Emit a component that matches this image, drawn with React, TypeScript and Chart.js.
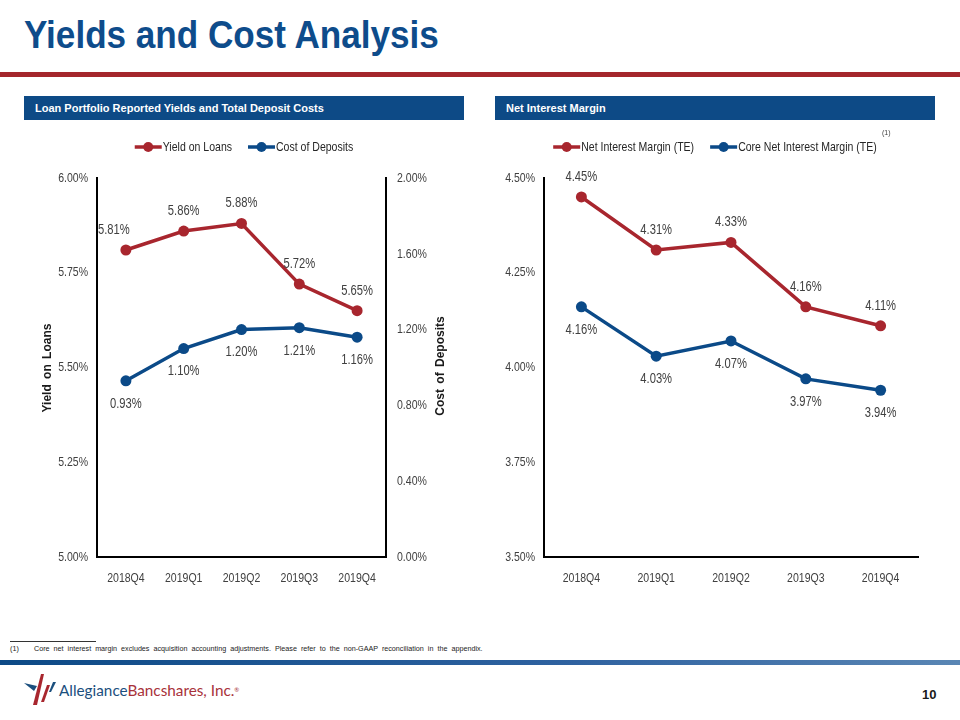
import React, { useEffect, useRef } from 'react';
import { Chart, registerables } from 'chart.js';

Chart.register(...registerables);

// ---------- data ----------
const quarters = ['2018Q4', '2019Q1', '2019Q2', '2019Q3', '2019Q4'];
const yieldOnLoans = [5.81, 5.86, 5.88, 5.72, 5.65];
const costOfDeposits = [0.93, 1.1, 1.2, 1.21, 1.16];
const netInterestMargin = [4.45, 4.31, 4.33, 4.16, 4.11];
const coreNetInterestMargin = [4.16, 4.03, 4.07, 3.97, 3.94];
const loanAxisTicks = [5.0, 5.25, 5.5, 5.75, 6.0];
const depositAxisTicks = [0.0, 0.4, 0.8, 1.2, 1.6, 2.0];
const nimAxisTicks = [3.5, 3.75, 4.0, 4.25, 4.5];

// ---------- style ----------
const RED = '#A8262E';
const BLUE = '#0B4A88';
const NAVY = '#0D4A86';
const TEXT = '#404040';
const SANS = "'Liberation Sans', Arial, sans-serif";
const CONDENSE = 0.78; // emulate a narrow face by horizontal scaling

const fmt = (v: number) => v.toFixed(2) + '%';

function narrowText(ctx: any, text: string, x: number, y: number, sx = CONDENSE) {
  ctx.save();
  ctx.translate(x, y);
  ctx.scale(sx, 1);
  ctx.fillText(text, 0, 0);
  ctx.restore();
}

const valueLabelPlugin = {
  id: 'valueLabels',
  afterDatasetsDraw(chart: any) {
    const ctx = chart.ctx;
    ctx.save();
    ctx.font = `14px ${SANS}`;
    ctx.fillStyle = TEXT;
    ctx.textAlign = 'center';
    ctx.textBaseline = 'middle';
    chart.data.datasets.forEach((ds: any, di: number) => {
      const meta = chart.getDatasetMeta(di);
      meta.data.forEach((pt: any, i: number) => {
        const dx = ds.labelShift ? ds.labelShift[i] || 0 : 0;
        const dy = ds.labelPos === 'above' ? -20 : 23;
        narrowText(ctx, fmt(ds.data[i]), pt.x + dx, pt.y + dy, 0.8);
      });
    });
    ctx.restore();
  },
};

const condensedTicksPlugin = {
  id: 'condensedTicks',
  afterDraw(chart: any, _args: any, opts: any) {
    const ctx = chart.ctx;
    ctx.save();
    ctx.font = `13.5px ${SANS}`;
    ctx.fillStyle = TEXT;
    ctx.textBaseline = 'middle';
    Object.keys(chart.scales).forEach((id) => {
      const scale = chart.scales[id];
      const pad = opts.pad[id] || 0;
      if (scale.axis === 'x') {
        ctx.textAlign = 'center';
        chart.data.labels.forEach((lab: string, i: number) => {
          narrowText(ctx, lab, scale.getPixelForTick(i), scale.top + pad);
        });
      } else {
        const left = scale.position === 'left';
        ctx.textAlign = left ? 'right' : 'left';
        scale.ticks.forEach((t: any) => {
          const y = scale.getPixelForValue(t.value);
          narrowText(ctx, fmt(t.value), left ? scale.right - pad : scale.left + pad, y);
        });
      }
    });
    ctx.restore();
  },
};

const lineLegendPlugin = {
  id: 'lineLegend',
  afterDraw(chart: any, _args: any, opts: any) {
    const ctx = chart.ctx;
    const y = opts.y;
    ctx.save();
    ctx.font = `13.5px ${SANS}`;
    const marker = 27;
    const gapText = 1;
    const gapItem = 16;
    const items = chart.data.datasets.map((ds: any) => ({
      text: ds.label,
      color: ds.borderColor,
      w: ctx.measureText(ds.label).width * CONDENSE,
    }));
    const total =
      items.reduce((s: number, it: any) => s + marker + gapText + it.w, 0) + gapItem * (items.length - 1);
    let x = (chart.width - total) / 2;
    items.forEach((it: any) => {
      ctx.strokeStyle = it.color;
      ctx.lineWidth = 3.5;
      ctx.beginPath();
      ctx.moveTo(x, y);
      ctx.lineTo(x + marker, y);
      ctx.stroke();
      ctx.fillStyle = it.color;
      ctx.beginPath();
      ctx.arc(x + marker / 2, y, 5, 0, Math.PI * 2);
      ctx.fill();
      ctx.fillStyle = '#262626';
      ctx.textAlign = 'left';
      ctx.textBaseline = 'middle';
      narrowText(ctx, it.text, x + marker + gapText, y + 0.5);
      x += marker + gapText + it.w + gapItem;
    });
    ctx.restore();
  },
};

const axisBorder = { display: true, color: '#000000', width: 2 };
const noGrid = { display: false, drawTicks: false };

function seriesStyle(color: string) {
  return {
    borderColor: color,
    backgroundColor: color,
    pointBackgroundColor: color,
    pointBorderColor: color,
    borderWidth: 3.5,
    pointRadius: 5.5,
    pointBorderWidth: 0,
    tension: 0,
  };
}

function yScale(position: string, ticks: number[], width: number) {
  return {
    position,
    min: ticks[0],
    max: ticks[ticks.length - 1],
    afterBuildTicks: (s: any) => {
      s.ticks = ticks.map((v) => ({ value: v }));
    },
    ticks: { display: false },
    grid: noGrid,
    border: axisBorder,
    afterFit: (s: any) => {
      s.width = width;
    },
  };
}

const xScale = {
  offset: true,
  grid: noGrid,
  border: axisBorder,
  ticks: { display: false },
  afterFit: (s: any) => {
    s.height = 48;
  },
};

function ChartCanvas({ config, style }: { config: any; style: React.CSSProperties }) {
  const ref = useRef<HTMLCanvasElement>(null);
  useEffect(() => {
    if (!ref.current) return;
    const chart = new Chart(ref.current, config);
    return () => chart.destroy();
  }, [config]);
  return <canvas ref={ref} width={440} height={480} style={{ position: 'absolute', ...style }} />;
}

const leftConfig = {
  type: 'line',
  data: {
    labels: quarters,
    datasets: [
      {
        label: 'Yield on Loans',
        data: yieldOnLoans,
        yAxisID: 'yLoans',
        labelPos: 'above',
        labelShift: [-12, 0, 0, 0, 0],
        ...seriesStyle(RED),
      },
      {
        label: 'Cost of Deposits',
        data: costOfDeposits,
        yAxisID: 'yDeposits',
        labelPos: 'below',
        ...seriesStyle(BLUE),
      },
    ],
  },
  options: {
    animation: false,
    responsive: false,
    maintainAspectRatio: false,
    layout: { padding: { top: 53, left: 0, right: 0, bottom: 0 } },
    plugins: {
      legend: { display: false },
      tooltip: { enabled: false },
      lineLegend: { y: 22 },
      condensedTicks: { pad: { x: 21, yLoans: 9, yDeposits: 11 } },
    },
    scales: {
      x: xScale,
      yLoans: yScale('left', loanAxisTicks, 73),
      yDeposits: yScale('right', depositAxisTicks, 78),
    },
  },
  plugins: [valueLabelPlugin, lineLegendPlugin, condensedTicksPlugin],
};

const rightConfig = {
  type: 'line',
  data: {
    labels: quarters,
    datasets: [
      {
        label: 'Net Interest Margin (TE)',
        data: netInterestMargin,
        yAxisID: 'y',
        labelPos: 'above',
        ...seriesStyle(RED),
      },
      {
        label: 'Core Net Interest Margin (TE)',
        data: coreNetInterestMargin,
        yAxisID: 'y',
        labelPos: 'below',
        ...seriesStyle(BLUE),
      },
    ],
  },
  options: {
    animation: false,
    responsive: false,
    maintainAspectRatio: false,
    layout: { padding: { top: 53, left: 0, right: 17, bottom: 0 } },
    plugins: {
      legend: { display: false },
      tooltip: { enabled: false },
      lineLegend: { y: 22 },
      condensedTicks: { pad: { x: 21, y: 9 } },
    },
    scales: {
      x: xScale,
      y: yScale('left', nimAxisTicks, 49),
    },
  },
  plugins: [valueLabelPlugin, lineLegendPlugin, condensedTicksPlugin],
};

function RotatedTitle({ text, cx, cy }: { text: string; cx: number; cy: number }) {
  return (
    <div
      style={{
        position: 'absolute',
        left: cx - 100,
        top: cy - 8,
        width: 200,
        height: 16,
        lineHeight: '16px',
        textAlign: 'center',
        transform: 'rotate(-90deg)',
        font: `bold 12px ${SANS}`,
        color: '#1a1a1a',
        wordSpacing: 2,
        whiteSpace: 'nowrap',
      }}
    >
      {text}
    </div>
  );
}

function HeaderBar({ text, left }: { text: string; left: number }) {
  return (
    <div
      style={{
        position: 'absolute',
        left,
        top: 96,
        width: 440,
        height: 24,
        background: NAVY,
        color: '#ffffff',
        font: `bold 11px ${SANS}`,
        lineHeight: '24px',
        paddingLeft: 11,
        boxSizing: 'border-box',
        whiteSpace: 'nowrap',
      }}
    >
      {text}
    </div>
  );
}

export default function App() {
  return (
    <div
      style={{
        position: 'absolute',
        left: 0,
        top: 0,
        width: 960,
        height: 720,
        background: '#ffffff',
        overflow: 'hidden',
        fontFamily: SANS,
      }}
    >
      <div
        style={{
          position: 'absolute',
          left: 24,
          top: 15,
          font: `bold 39px ${SANS}`,
          lineHeight: '39px',
          color: '#0E4C8B',
          transform: 'scaleX(0.9)',
          transformOrigin: 'left top',
          whiteSpace: 'nowrap',
        }}
      >
        Yields and Cost Analysis
      </div>
      <div style={{ position: 'absolute', left: 0, top: 72, width: 960, height: 5, background: '#A4262C' }} />

      <HeaderBar text="Loan Portfolio Reported Yields and Total Deposit Costs" left={24} />
      <HeaderBar text="Net Interest Margin" left={495} />

      <ChartCanvas config={leftConfig} style={{ left: 24, top: 125 }} />
      <ChartCanvas config={rightConfig} style={{ left: 495, top: 125 }} />

      <RotatedTitle text="Yield on Loans" cx={48} cy={368} />
      <RotatedTitle text="Cost of Deposits" cx={441} cy={366} />

      <div
        style={{
          position: 'absolute',
          left: 882,
          top: 129,
          font: `7px ${SANS}`,
          color: TEXT,
        }}
      >
        (1)
      </div>

      <div style={{ position: 'absolute', left: 10, top: 641, width: 86, height: 1, background: '#333' }} />
      <div style={{ position: 'absolute', left: 10, top: 644, font: `7.2px ${SANS}`, color: '#222', whiteSpace: 'nowrap' }}>
        (1)
      </div>
      <div
        style={{
          position: 'absolute',
          left: 34,
          top: 644,
          font: `7.2px ${SANS}`,
          color: '#222',
          whiteSpace: 'nowrap',
          wordSpacing: 2,
        }}
      >
        Core net interest margin excludes acquisition accounting adjustments. Please refer to the non-GAAP reconciliation in the appendix.
      </div>

      <div
        style={{
          position: 'absolute',
          left: 0,
          top: 660,
          width: 960,
          height: 5,
          background: 'linear-gradient(90deg, #0D4A86 0%, #2F62A0 60%, #5A86B4 100%)',
        }}
      />

      <svg style={{ position: 'absolute', left: 20, top: 670 }} width={40} height={40} viewBox="0 0 40 40">
        <polygon points="4,13 17,16 14,21" fill="#1B4F7E" />
        <polygon points="21,4 24,4 17,35 13,35" fill="#A8262E" />
        <polygon points="27,15 30,15 24,32 21,32" fill="#A8262E" />
        <polygon points="33,12 36,12 31,22 29,22" fill="#1B4F7E" />
      </svg>
      <div
        style={{
          position: 'absolute',
          left: 59,
          top: 680,
          font: `15.3px Lato, 'Open Sans', sans-serif`,
          lineHeight: '20px',
          whiteSpace: 'nowrap',
        }}
      >
        <span style={{ color: '#1B4F7E' }}>Allegiance</span>
        <span style={{ color: '#A8323A' }}>Bancshares, Inc.</span>
        <span style={{ color: '#A8323A', fontSize: 6, verticalAlign: 'top' }}>®</span>
      </div>

      <div
        style={{
          position: 'absolute',
          left: 922,
          top: 687,
          font: `bold 13px ${SANS}`,
          color: '#1a1a1a',
        }}
      >
        10
      </div>
    </div>
  );
}
